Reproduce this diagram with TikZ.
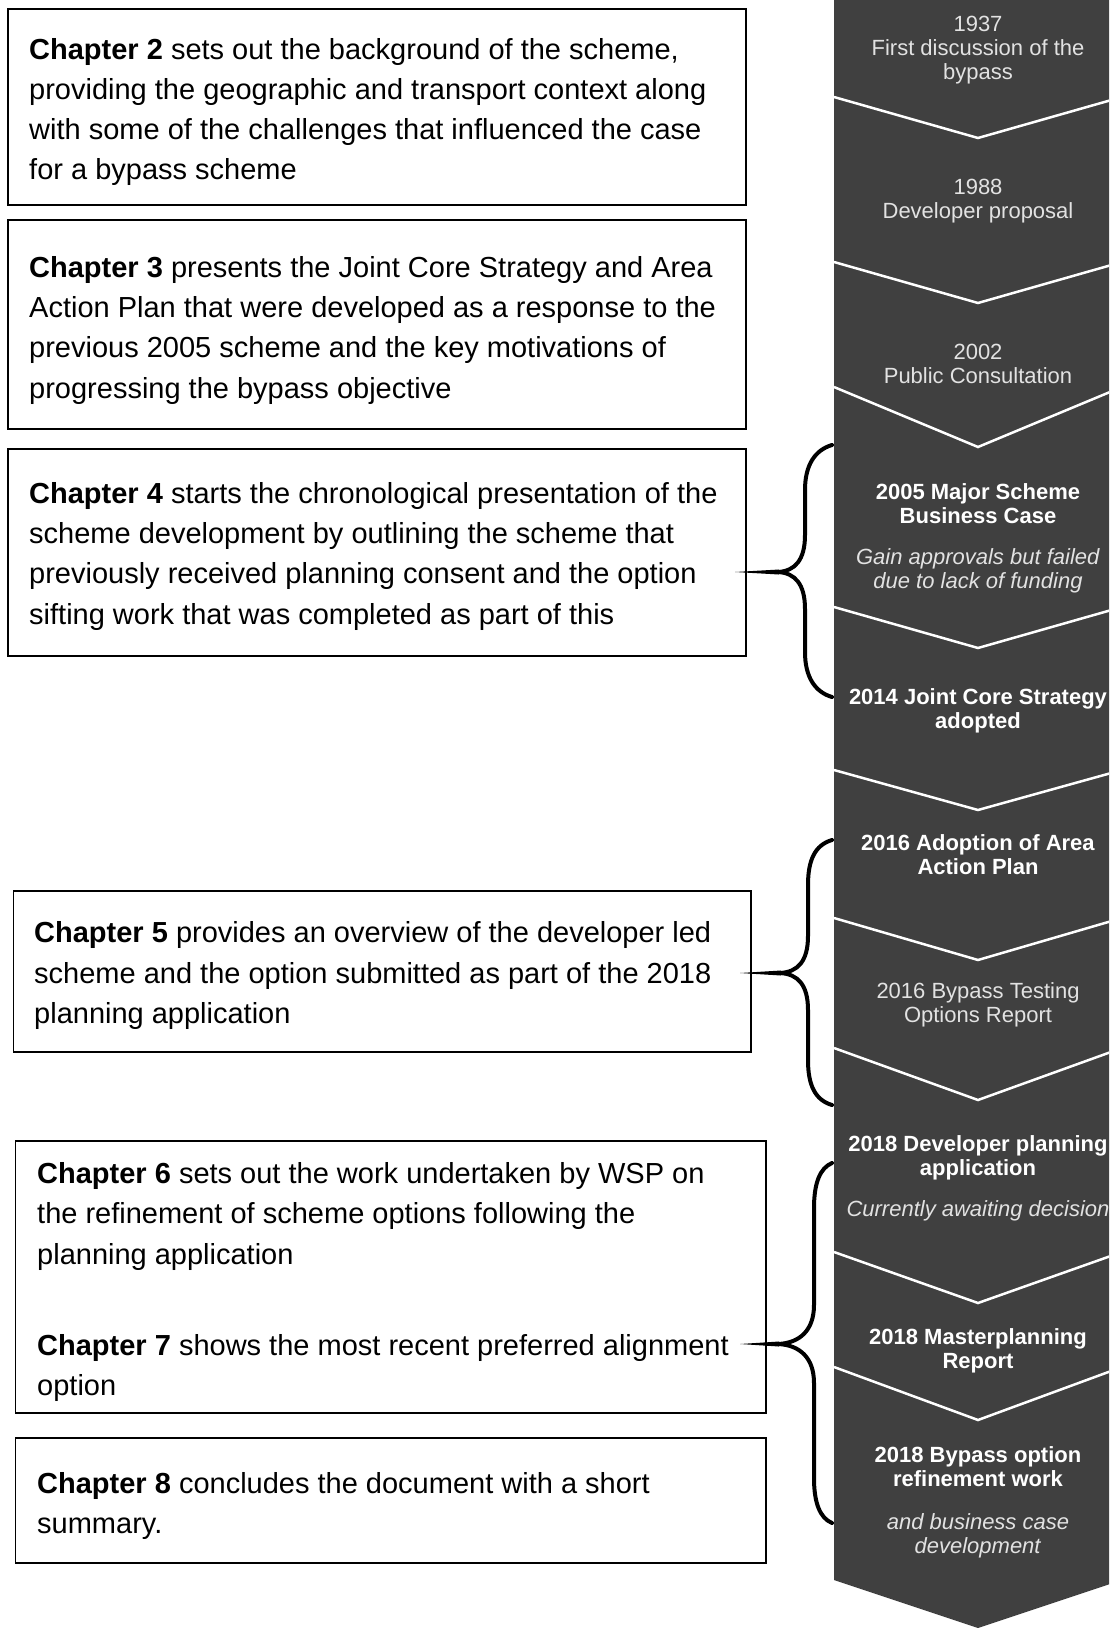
\documentclass[tikz,border=0pt]{standalone}
\usepackage{fontspec}
\setmainfont{Liberation Sans}
\definecolor{colfill}{HTML}{404040}
\definecolor{coltxt}{HTML}{E2E2E2}
\newcommand\lftstrut{\rule{0pt}{25pt}}
\newcommand\colstrut{\rule{0pt}{20pt}}
\begin{document}
\begin{tikzpicture}[x=1pt,y=-1pt,
  chbox/.style={draw=black, line width=1.6pt, rectangle, inner sep=0pt, outer sep=0pt, anchor=north west},
  chtext/.style={anchor=north west, inner sep=0pt, align=left, font=\fontsize{29}{40.3}\selectfont, text=black},
  coltext/.style={anchor=north, inner sep=0pt, align=center, font=\fontsize{22}{24}\selectfont, text=coltxt},
  sepline/.style={draw=white, line width=2.5pt},
  bracestyle/.style={draw=black, line width=4pt, line cap=round},
]
\useasboundingbox (0,0) rectangle (1109,1628);
\begin{scope}
\clip (0,0) rectangle (1109,1628);
% timeline column
\fill[colfill] (834,0) -- (1122,0) -- (1122,1580) -- (978,1628) -- (834,1580) -- cycle;
\draw[sepline] (834,97) -- (978,138) -- (1122,97);
\draw[sepline] (834,262) -- (978,303) -- (1122,262);
\draw[sepline] (834,387) -- (978,447) -- (1122,387);
\draw[sepline] (834,607) -- (978,648) -- (1122,607);
\draw[sepline] (834,770) -- (978,810) -- (1122,770);
\draw[sepline] (834,918) -- (978,960) -- (1122,918);
\draw[sepline] (834,1048) -- (978,1100) -- (1122,1048);
\draw[sepline] (834,1252) -- (978,1303) -- (1122,1252);
\draw[sepline] (834,1367) -- (978,1420) -- (1122,1367);

\node[coltext] (t1937) at (978,11.7) {\colstrut 1937\\ First discussion of the\\ bypass};
\node[coltext] (t1988) at (978,174.7) {\colstrut 1988\\ Developer proposal};
\node[coltext] (t2002) at (978,339.7) {\colstrut 2002\\ Public Consultation};
\node[coltext] (t2005) at (978,479) {\colstrut\textcolor{white}{\textbf{2005 Major Scheme}}\\ \textcolor{white}{\textbf{Business Case}}\\[17pt] \textit{Gain approvals but failed}\\ \textit{due to lack of funding}};
\node[coltext] (t2014) at (978,684) {\colstrut\textcolor{white}{\textbf{2014 Joint Core Strategy}}\\ \textcolor{white}{\textbf{adopted}}};
\node[coltext] (t2016a) at (978,830) {\colstrut\textcolor{white}{\textbf{2016 Adoption of Area}}\\ \textcolor{white}{\textbf{Action Plan}}};
\node[coltext] (t2016b) at (978,978.4) {\colstrut 2016 Bypass Testing\\ Options Report};
\node[coltext] (t2018a) at (978,1131) {\colstrut\textcolor{white}{\textbf{2018 Developer planning}}\\ \textcolor{white}{\textbf{application}}\\[17pt] \textit{Currently awaiting decision}};
\node[coltext] (t2018b) at (978,1324.4) {\colstrut\textcolor{white}{\textbf{2018 Masterplanning}}\\ \textcolor{white}{\textbf{Report}}};
\node[coltext] (t2018c) at (978,1442.7) {\colstrut\textcolor{white}{\textbf{2018 Bypass option}}\\ \textcolor{white}{\textbf{refinement work}}\\[19pt] \textit{and business case}\\ \textit{development}};
\end{scope}

% chapter boxes
\node[chbox, minimum width=738pt, minimum height=196pt] (b2) at (8,9) {};
\node[chbox, minimum width=738pt, minimum height=209pt] (b3) at (8,220) {};
\node[chbox, minimum width=738pt, minimum height=207pt] (b4) at (8,449) {};
\node[chbox, minimum width=737.5pt, minimum height=161pt] (b5) at (13.5,891) {};
\node[chbox, minimum width=750.4pt, minimum height=272pt] (b6) at (15.6,1141) {};
\node[chbox, minimum width=750.4pt, minimum height=125pt] (b8) at (15.6,1438) {};

\node[chtext] (c2) at (29,33.8) {\lftstrut\textbf{Chapter 2} sets out the background of the scheme,\\ providing the geographic and transport context along\\ with some of the challenges that influenced the case\\ for a bypass scheme};
\node[chtext] (c3) at (29,251.9) {\lftstrut\textbf{Chapter 3} presents the Joint Core Strategy and Area\\ Action Plan that were developed as a response to the\\ previous 2005 scheme and the key motivations of\\ progressing the bypass objective};
\node[chtext] (c4) at (29,478) {\lftstrut\textbf{Chapter 4} starts the chronological presentation of the\\ scheme development by outlining the scheme that\\ previously received planning consent and the option\\ sifting work that was completed as part of this};
\node[chtext] (c5) at (34,917.5) {\lftstrut\textbf{Chapter 5} provides an overview of the developer led\\ scheme and the option submitted as part of the 2018\\ planning application};
\node[chtext] (c6) at (37,1158.4) {\lftstrut\textbf{Chapter 6} sets out the work undertaken by WSP on\\ the refinement of scheme options following the\\ planning application\\[51pt] \textbf{Chapter 7} shows the most recent preferred alignment\\ option};
\node[chtext] (c8) at (37,1467.8) {\lftstrut\textbf{Chapter 8} concludes the document with a short\\ summary.};

% braces
\draw[bracestyle] (832,445) .. controls (815,450) and (805,465) .. (805,490) -- (805,535) .. controls (805,560) and (795,571) .. (778,572) .. controls (795,573) and (805,584) .. (805,609) -- (805,652) .. controls (805,677) and (815,692) .. (832,697);
\fill (779,569.5) -- (735,572) -- (779,574.5) -- cycle;

\draw[bracestyle] (832,840) .. controls (815,845) and (808,860) .. (808,885) -- (808,936) .. controls (808,961) and (798,972) .. (780,973) .. controls (798,974) and (808,985) .. (808,1010) -- (808,1060) .. controls (808,1085) and (815,1100) .. (832,1105);
\fill (781,970.5) -- (740,973) -- (781,975.5) -- cycle;

\draw[bracestyle] (832,1163) .. controls (820,1168) and (814,1183) .. (814,1208) -- (814,1305) .. controls (814,1330) and (800,1343) .. (778,1344) .. controls (800,1345) and (814,1358) .. (814,1383) -- (814,1478) .. controls (814,1503) and (820,1518) .. (832,1523);
\fill (779,1341.5) -- (740,1344) -- (779,1346.5) -- cycle;
\end{tikzpicture}
\end{document}
